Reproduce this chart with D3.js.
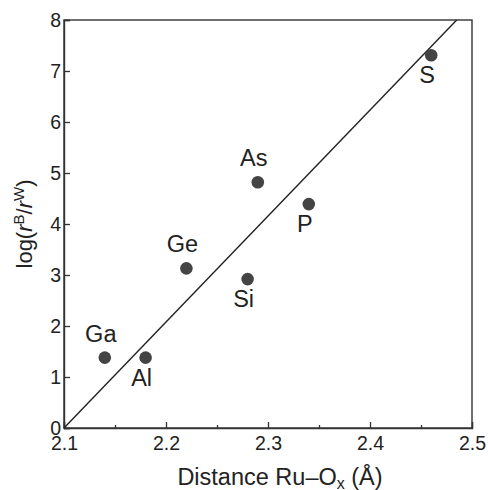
<!DOCTYPE html>
<html>
<head>
<meta charset="utf-8">
<script src="https://cdn.jsdelivr.net/npm/d3@7"></script>
<style>
  body { margin: 0; background: #fff; }
  text { font-family: "Liberation Sans", Arial, sans-serif; fill: #222; }
</style>
</head>
<body>
<script>
// Chart size and margins
var w = 488;
var h = 490;
var margin = {top: 20, right: 16, bottom: 62, left: 64};

// Data
var elements = ["Ga", "Al", "Ge", "Si", "As", "P", "S"];
var distance = [2.14, 2.18, 2.22, 2.28, 2.29, 2.34, 2.46];
var logRatio = [1.38, 1.38, 3.13, 2.92, 4.82, 4.39, 7.31];
// where each label sits relative to its dot
var labelSide = ["above", "below", "above", "below", "above", "below", "below"];

// Fitted line end points
var fitX = [2.1, 2.485];
var fitY = [0, 8];

var xTicks = [2.1, 2.2, 2.3, 2.4, 2.5];
var xMinor = [2.15, 2.25, 2.35, 2.45];
var yTicks = [0, 1, 2, 3, 4, 5, 6, 7, 8];

var x = d3.scaleLinear()
    .domain([2.1, 2.5])
    .range([margin.left, w - margin.right]);

var y = d3.scaleLinear()
    .domain([0, 8])
    .range([h - margin.bottom, margin.top]);

var svg = d3.select("body")
    .append("svg")
    .attr("width", w)
    .attr("height", h);

// Frame around the plot
svg.append("rect")
    .attr("x", x(2.1))
    .attr("y", y(8))
    .attr("width", x(2.5) - x(2.1))
    .attr("height", y(0) - y(8))
    .attr("fill", "none")
    .attr("stroke", "#333")
    .attr("stroke-width", 1.4);

// Axes with inward ticks
svg.append("g")
    .attr("transform", "translate(0," + y(0) + ")")
    .call(d3.axisBottom(x).tickValues(xTicks).tickSize(-6).tickPadding(8)
        .tickFormat(d3.format(".1f")));

svg.append("g")
    .attr("transform", "translate(0," + y(0) + ")")
    .call(d3.axisBottom(x).tickValues(xMinor).tickSize(-3).tickFormat(""))
    .select(".domain").remove();

svg.append("g")
    .attr("transform", "translate(" + x(2.1) + ",0)")
    .call(d3.axisLeft(y).tickValues(yTicks).tickSize(-6).tickPadding(3));

svg.selectAll(".tick line").attr("stroke", "#333").attr("stroke-width", 1.3);
svg.selectAll(".domain").attr("stroke", "#333").attr("stroke-width", 1.4);
svg.selectAll(".tick text")
    .attr("font-size", 19.5)
    .attr("font-family", "Liberation Sans, Arial, sans-serif")
    .attr("fill", "#333");

// Fit line
svg.append("line")
    .attr("x1", x(fitX[0]))
    .attr("y1", y(fitY[0]))
    .attr("x2", x(fitX[1]))
    .attr("y2", y(fitY[1]))
    .attr("stroke", "#222")
    .attr("stroke-width", 1.4);

// Points
svg.selectAll("circle")
    .data(elements)
    .enter()
    .append("circle")
    .attr("cx", function(d, i){ return x(distance[i]); })
    .attr("cy", function(d, i){ return y(logRatio[i]); })
    .attr("r", 6.3)
    .attr("fill", "#444");

// Element labels
svg.selectAll("text.lab")
    .data(elements)
    .enter()
    .append("text")
    .attr("class", "lab")
    .attr("x", function(d, i){ return x(distance[i]) - 4; })
    .attr("y", function(d, i){
        return labelSide[i] == "above" ? y(logRatio[i]) - 16 : y(logRatio[i]) + 28;
    })
    .attr("text-anchor", "middle")
    .attr("font-size", 23.5)
    .text(function(d){ return d; });

// Axis titles
var xt = svg.append("text")
    .attr("x", (x(2.1) + x(2.5)) / 2 + 12)
    .attr("y", 485)
    .attr("text-anchor", "middle")
    .attr("font-size", 23.5);
xt.append("tspan").text("Distance Ru\u2013O");
xt.append("tspan").attr("font-size", 16).attr("dy", 4).text("x");
xt.append("tspan").attr("dy", -4).text(" (\u00C5)");

var yt = svg.append("text")
    .attr("transform", "translate(32," + ((y(0) + y(8)) / 2) + ") rotate(-90)")
    .attr("text-anchor", "middle")
    .attr("font-size", 22);
yt.append("tspan").text("log(");
yt.append("tspan").attr("font-style", "italic").text("r");
yt.append("tspan").attr("font-size", 15).attr("dy", -8).text("B");
yt.append("tspan").attr("dy", 8).text("/");
yt.append("tspan").attr("font-style", "italic").text("r");
yt.append("tspan").attr("font-size", 15).attr("dy", -8).text("W");
yt.append("tspan").attr("dy", 8).text(")");
</script>
</body>
</html>
